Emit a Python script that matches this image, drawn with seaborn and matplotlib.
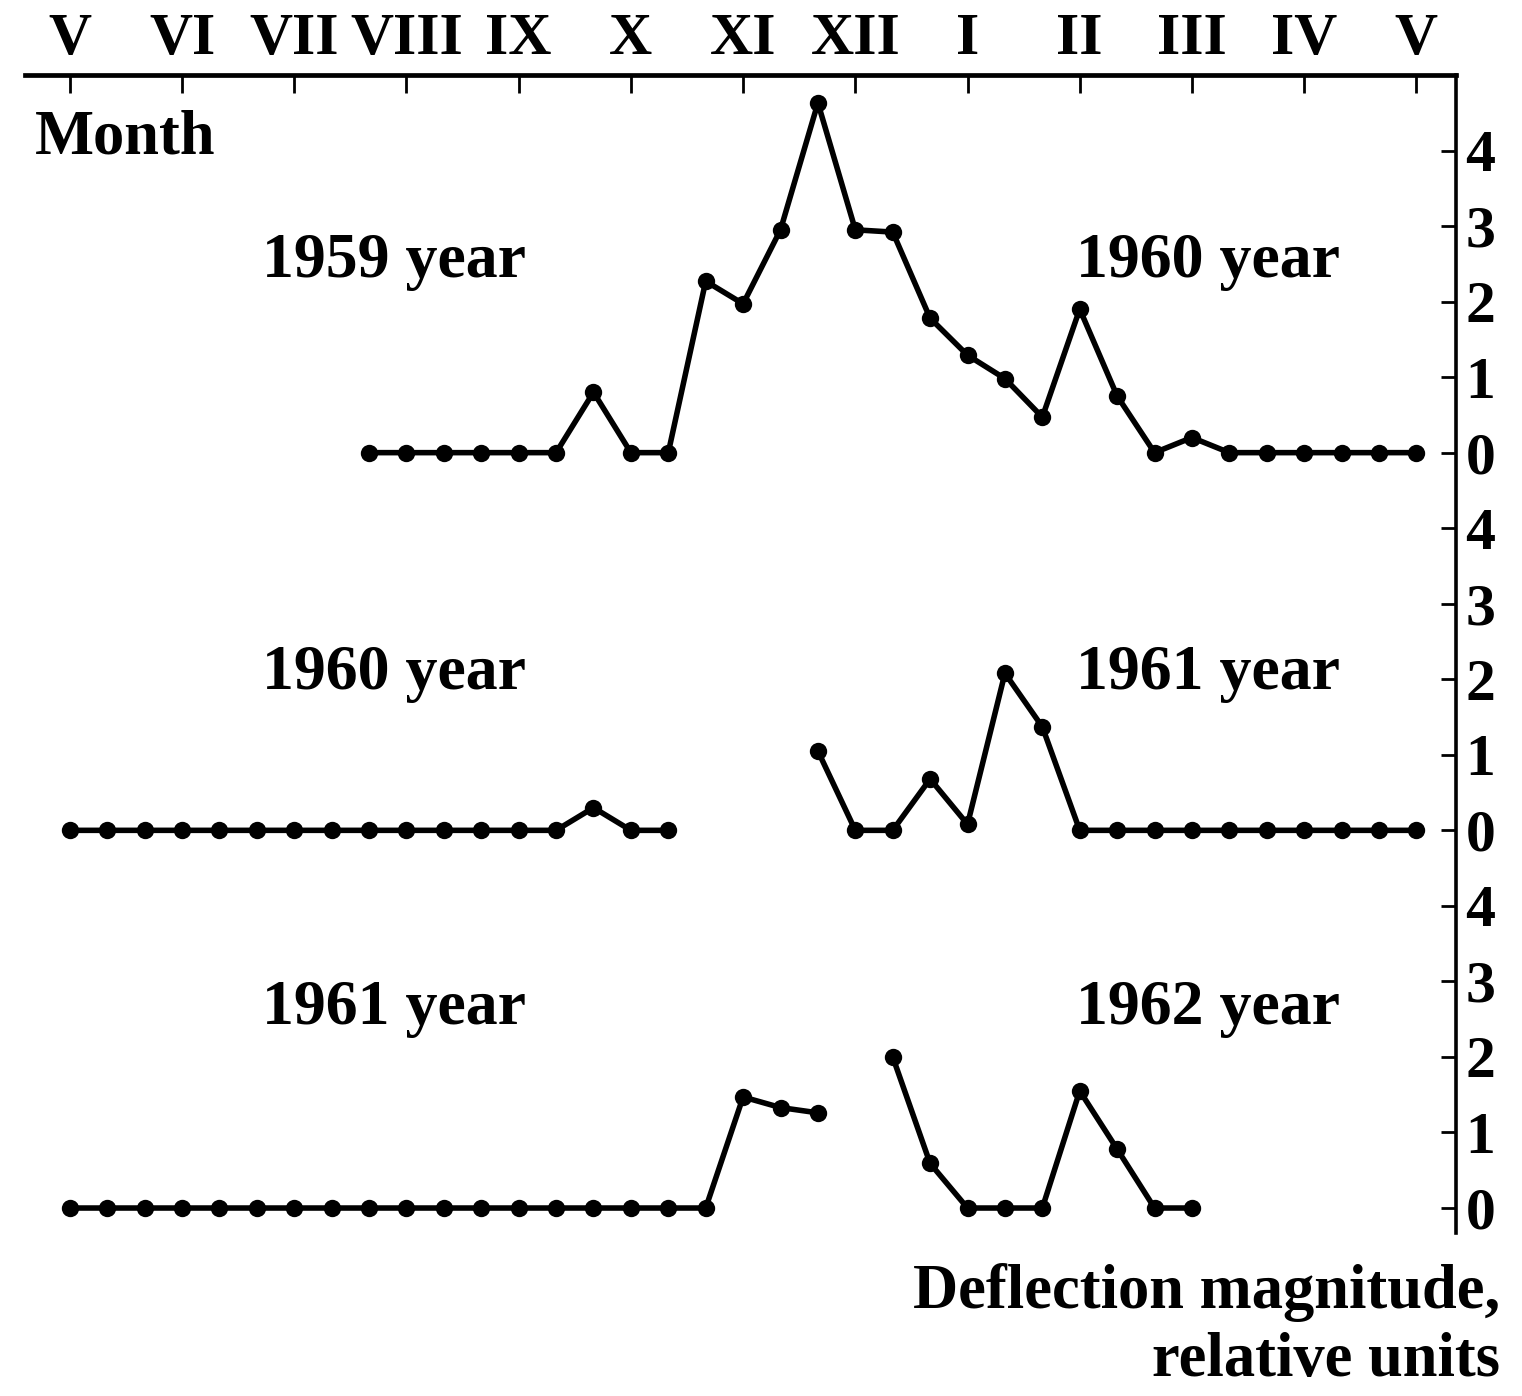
import pandas as pd
import seaborn as sns
import matplotlib.pyplot as plt

# ==================================================
# Data (ten-day periods counted from May 1959, 3 per month)
# ==================================================

month_labels = ["V", "VI", "VII", "VIII", "IX", "X", "XI", "XII", "I", "II", "III", "IV", "V"]

# 1959-1960 season, starts at dekad 8
season1_start = 8
season1 = [0, 0, 0, 0, 0, 0, 0.8, 0, 0, 2.27, 1.97, 2.95, 4.63, 2.95, 2.92,
           1.78, 1.29, 0.98, 0.47, 1.9, 0.75, 0, 0.2, 0, 0, 0, 0, 0, 0]

# 1960-1961 season, two pieces
season2a_start = 0
season2a = [0, 0, 0, 0, 0, 0, 0, 0, 0, 0, 0, 0, 0, 0, 0.3, 0, 0]
season2b_start = 20
season2b = [1.05, 0, 0, 0.68, 0.08, 2.08, 1.37, 0, 0, 0, 0, 0, 0, 0, 0, 0, 0]

# 1961-1962 season, two pieces
season3a_start = 0
season3a = [0, 0, 0, 0, 0, 0, 0, 0, 0, 0, 0, 0, 0, 0, 0, 0, 0, 0, 1.47, 1.33, 1.26]
season3b_start = 22
season3b = [2.0, 0.59, 0, 0, 0, 1.55, 0.78, 0, 0]

year_left = ["1959 year", "1960 year", "1961 year"]
year_right = ["1960 year", "1961 year", "1962 year"]
offsets = [10, 5, 0]  # vertical offset of each panel
caption_y = [12.32, 6.87, 2.44]

# build one long table
pieces = [
    ("s1", season1_start, season1, offsets[0]),
    ("s2a", season2a_start, season2a, offsets[1]),
    ("s2b", season2b_start, season2b, offsets[1]),
    ("s3a", season3a_start, season3a, offsets[2]),
    ("s3b", season3b_start, season3b, offsets[2]),
]
rows = []
for name, start, vals, off in pieces:
    for i, v in enumerate(vals):
        rows.append({"segment": name, "month": (start + i) / 3, "level": v + off})
df = pd.DataFrame(rows)

# ==================================================
# Plot
# ==================================================

sns.set_style("white")
plt.rcParams["font.family"] = ["Liberation Serif", "DejaVu Serif"]
plt.rcParams["font.weight"] = "bold"
plt.rcParams["text.color"] = "black"
plt.rcParams["xtick.color"] = "black"
plt.rcParams["ytick.color"] = "black"

fig = plt.figure(figsize=(15.22, 13.96), dpi=100)
ax = fig.add_axes([0.0164, 0.1168, 0.940, 0.8295])

sns.lineplot(
    data=df,
    x="month",
    y="level",
    units="segment",
    estimator=None,
    sort=False,
    color="black",
    marker="o",
    markersize=12.5,
    markeredgewidth=0,
    linewidth=4,
    ax=ax
)

ax.set_xlim(-0.4, 12.35)
ax.set_ylim(-0.33, 15)

# month axis on top
ax.set_xticks(range(13))
ax.set_xticklabels(month_labels)
ax.xaxis.tick_top()
ax.tick_params(axis="x", direction="in", length=13, width=2, pad=6,
               labelsize=43, top=True, bottom=False)

# deflection axis on the right
yticks = [off + k for off in offsets for k in range(5)]
ax.set_yticks(yticks)
ax.set_yticklabels([str(k) for off in offsets for k in range(5)])
ax.yaxis.tick_right()
ax.tick_params(axis="y", direction="in", length=11, width=2, pad=7,
               labelsize=43, right=True, left=False)

for side in ["left", "bottom"]:
    ax.spines[side].set_visible(False)
ax.spines["top"].set_linewidth(3.4)
ax.spines["right"].set_linewidth(2.6)
ax.spines["top"].set_color("black")
ax.spines["right"].set_color("black")

ax.set_xlabel("")
ax.set_ylabel("")

# year captions
for cy, lt, rt in zip(caption_y, year_left, year_right):
    ax.text(2.89, cy, lt, ha="center", va="baseline", fontsize=46, fontweight="bold")
    ax.text(10.14, cy, rt, ha="center", va="baseline", fontsize=46, fontweight="bold")

fig.text(0.023, 0.890, "Month", ha="left", va="baseline", fontsize=45, fontweight="bold")
fig.text(0.9855, 0.063, "Deflection magnitude,", ha="right", va="baseline", fontsize=45, fontweight="bold")
fig.text(0.9855, 0.014, "relative units", ha="right", va="baseline", fontsize=45, fontweight="bold")

plt.savefig("out.png", dpi=100)
